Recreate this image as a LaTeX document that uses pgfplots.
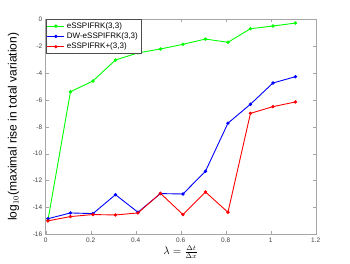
\documentclass[border=0pt]{standalone}
\usepackage{pgfplots}
\pgfplotsset{compat=1.18}
\usepackage{fontspec}
\setmainfont{Liberation Sans}
\begin{document}
\begin{tikzpicture}
\useasboundingbox (-45.7pt,-28.7pt) rectangle (304.3pt,234.3pt);
\begin{axis}[
  scale only axis, width=270pt, height=215pt,
  xmin=0, xmax=1.2, ymin=-16, ymax=0,
  xtick={0,0.2,...,1.2}, ytick={-16,-14,...,0},
  xticklabels={0,0.2,0.4,0.6,0.8,1,1.2},
  tick align=inside, major tick length=3pt,
  axis line style={gray!70}, tick style={gray!70},
  ticklabel style={font=\fontsize{6.5}{7}\selectfont, text=black!75},
  /pgf/number format/assume math mode=true,
  xlabel={$\lambda = \frac{\Delta t}{\Delta x}$},
  ylabel={log$_{10}$(maximal rise in total variation)},
  ylabel style={font=\fontsize{12}{14}\selectfont, at={(-0.085,0.5)}},
  xlabel style={font=\fontsize{10.5}{12}\selectfont, at={(0.5,-0.035)}, anchor=north},
  legend style={at={(0,1)}, anchor=north west, font=\fontsize{8}{9}\selectfont, draw=black!70, inner sep=1pt, row sep=-1pt, legend cell align=left},
  every axis plot/.append style={line width=0.9pt, mark=*, mark size=1.2pt},
]
\addplot[color={rgb,1:red,0;green,1;blue,0}] coordinates {
(0.01,-14.95)(0.11,-5.39)(0.21,-4.59)(0.31,-3.03)(0.41,-2.5)(0.51,-2.21)(0.61,-1.86)(0.71,-1.47)(0.81,-1.71)(0.91,-0.70)(1.01,-0.50)(1.11,-0.28)};
\addlegendentry{eSSPIFRK(3,3)}
\addplot[color=blue] coordinates {
(0.01,-14.84)(0.11,-14.41)(0.21,-14.46)(0.31,-13.05)(0.41,-14.36)(0.51,-12.97)(0.61,-13.0)(0.71,-11.31)(0.81,-7.73)(0.91,-6.32)(1.01,-4.74)(1.11,-4.27)};
\addlegendentry{DW-eSSPIFRK(3,3)}
\addplot[color=red] coordinates {
(0.01,-15.0)(0.11,-14.68)(0.21,-14.53)(0.31,-14.56)(0.41,-14.41)(0.51,-12.95)(0.61,-14.53)(0.71,-12.85)(0.81,-14.36)(0.91,-7.0)(1.01,-6.5)(1.11,-6.15)};
\addlegendentry{eSSPIFRK+(3,3)}
\end{axis}
\end{tikzpicture}
\end{document}
